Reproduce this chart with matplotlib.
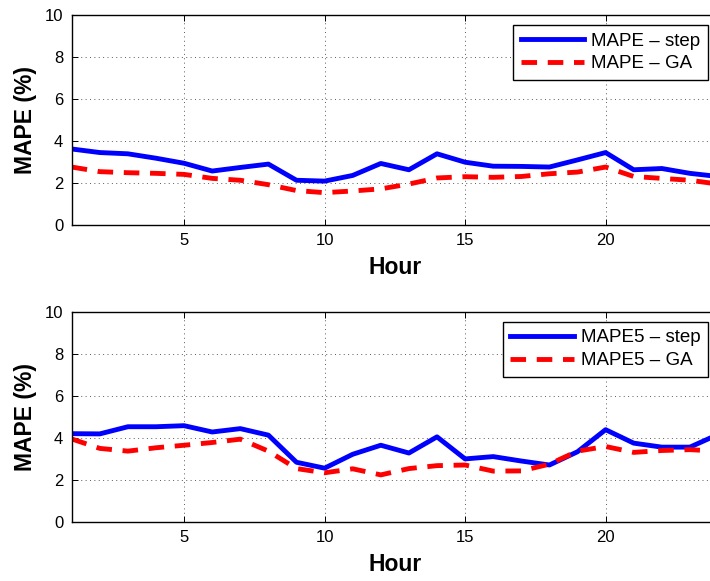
import numpy as np
import matplotlib
matplotlib.use("Agg")
import matplotlib.pyplot as plt

plt.rcParams['font.family'] = ['Liberation Sans', 'DejaVu Sans']

hours = np.arange(1, 25)

# hourly MAPE, step search vs genetic algorithm
mape_step = [3.62, 3.45, 3.39, 3.18, 2.94, 2.57, 2.74, 2.90, 2.13, 2.09, 2.36, 2.93,
             2.63, 3.39, 2.99, 2.80, 2.79, 2.76, 3.10, 3.45, 2.63, 2.69, 2.46, 2.31]
mape_ga = [2.76, 2.54, 2.49, 2.46, 2.41, 2.22, 2.13, 1.92, 1.64, 1.54, 1.62, 1.72,
           1.95, 2.24, 2.30, 2.27, 2.31, 2.44, 2.52, 2.76, 2.31, 2.22, 2.13, 1.95]

# hourly MAPE5
mape5_step = [4.20, 4.19, 4.53, 4.53, 4.58, 4.28, 4.44, 4.13, 2.84, 2.56, 3.22, 3.65,
              3.28, 4.05, 3.00, 3.11, 2.90, 2.71, 3.34, 4.39, 3.75, 3.56, 3.56, 4.16]
mape5_ga = [3.95, 3.50, 3.37, 3.53, 3.65, 3.78, 3.94, 3.37, 2.54, 2.34, 2.53, 2.24,
            2.54, 2.68, 2.71, 2.42, 2.43, 2.75, 3.37, 3.59, 3.31, 3.40, 3.44, 3.37]

W, H = 710, 581
fig = plt.figure(figsize=(W / 100, H / 100), dpi=100)

def panel(top, bottom, step, ga, names):
    left, right = 71.7, 718
    ax = fig.add_axes([left / W, (H - bottom) / H, (right - left) / W, (bottom - top) / H])
    ax.plot(hours, step, color=(0, 0, 1), lw=3.5, label=names[0])
    ax.plot(hours, ga, color=(1, 0, 0), lw=3.5, dashes=(3.2, 2.2), label=names[1])
    ax.set_xlim(1, 24)
    ax.set_ylim(0, 10)
    ax.set_xticks([5, 10, 15, 20])
    ax.set_yticks([0, 2, 4, 6, 8, 10])
    ax.grid(True, color='0.35', linestyle=(0, (1, 3.5)), lw=0.7)
    ax.tick_params(direction='in', length=4, width=0.7, labelsize=12,
                   top=True, right=True, pad=6)
    for s in ax.spines.values():
        s.set_linewidth(1.0)
    ax.set_xlabel('Hour', fontsize=16.5, fontweight='bold', labelpad=5.5)
    ax.set_ylabel('MAPE (%)', fontsize=16.5, fontweight='bold', labelpad=6)
    leg = ax.legend(loc='upper right', bbox_to_anchor=(0.984, 0.952), fontsize=13.5,
                    fancybox=False, framealpha=1, edgecolor='black',
                    handlelength=3.4, borderaxespad=0, borderpad=0.4,
                    labelspacing=0.3, handletextpad=0.35)
    leg.get_frame().set_linewidth(1.0)
    return ax

panel(15, 225, mape_step, mape_ga, ['MAPE \u2013 step', 'MAPE \u2013 GA'])
panel(311.7, 522, mape5_step, mape5_ga, ['MAPE5 \u2013 step', 'MAPE5 \u2013 GA'])

fig.savefig('out.png', dpi=100)
